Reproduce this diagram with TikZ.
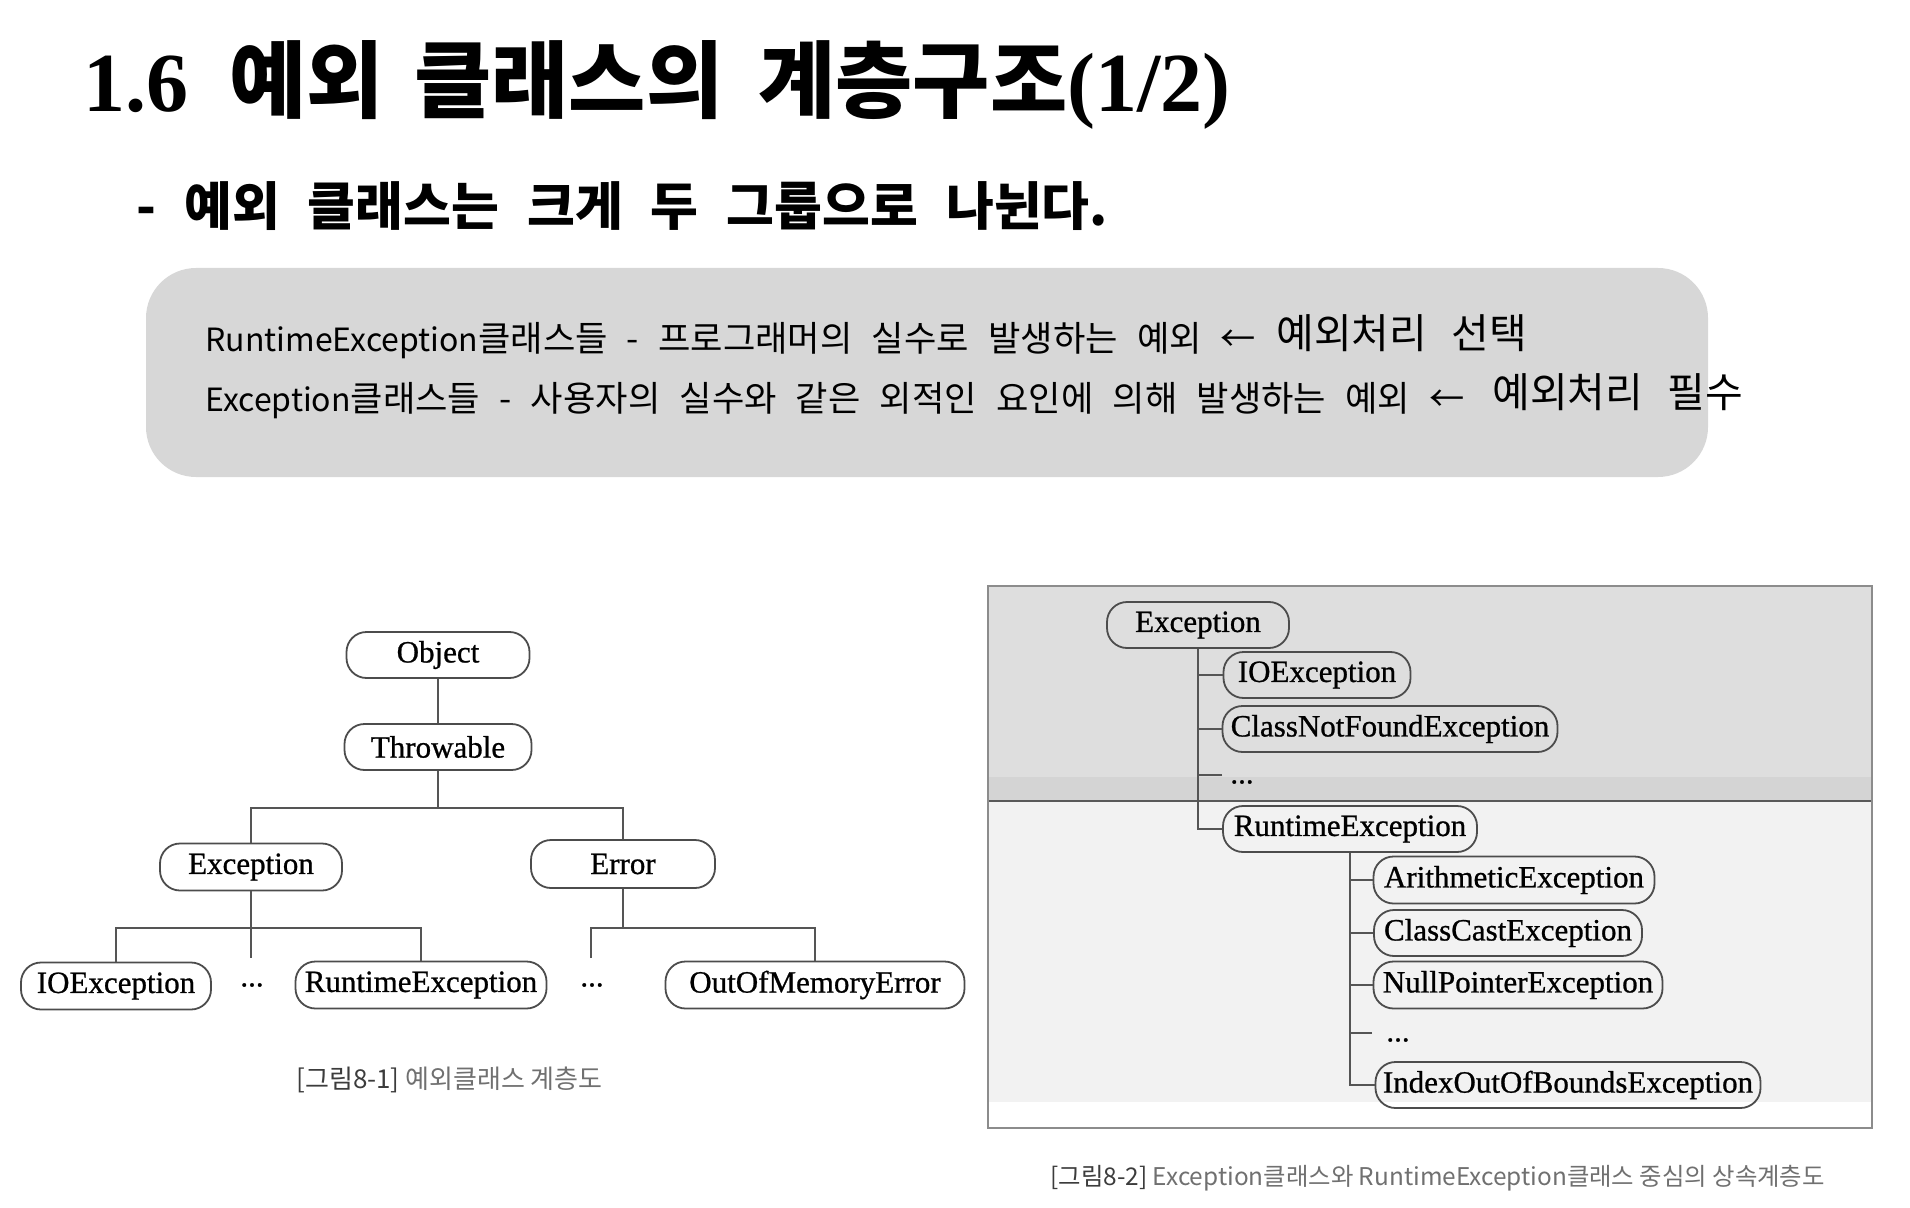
\documentclass[tikz,border=0pt]{standalone}
\usepackage{fontspec}
\setmainfont{Liberation Serif}
\newfontfamily\kr{Noto Sans CJK KR}
\newfontfamily\nodefont{Liberation Serif}[FakeBold=0.8]
\definecolor{boxgray}{HTML}{D7D7D7}
\definecolor{upgray}{HTML}{DEDEDE}
\definecolor{bandgray}{HTML}{D4D4D4}
\definecolor{lowgray}{HTML}{F2F2F2}
\definecolor{edgegray}{HTML}{555555}
\definecolor{capgray}{HTML}{707070}
\definecolor{capdark}{HTML}{3C3C3C}
\begin{document}
\begin{tikzpicture}[x=0.5pt,y=-0.5pt,
  cls/.style={draw=black!70, line width=0.9pt, rounded corners=10pt,
    minimum height=23pt, inner sep=0pt, font=\nodefont\fontsize{15.5}{18}\selectfont},
  conn/.style={draw=edgegray, line width=0.9pt},
  dotsnode/.style={inner sep=0pt, font=\nodefont\fontsize{15.5}{18}\selectfont},
  captext/.style={anchor=west, inner sep=0pt, text=capgray},
  titlepart/.style={anchor=base west, inner sep=0pt, font=\kr\bfseries\fontsize{42}{50}\selectfont},
  boxline/.style={anchor=base west, inner sep=0pt, font=\kr\fontsize{17.6}{20}\selectfont},
  boxbig/.style={anchor=base west, inner sep=0pt, font=\kr\fontsize{20.5}{24}\selectfont}]
\useasboundingbox (0,0) rectangle (1910,1208);

% ---------- title ----------
\node[titlepart, font=\rmfamily\bfseries\fontsize{42}{50}\selectfont] (t1) at (83,112) {1.6};
\node[titlepart] (t2) at (229,112) {예외};
\node[titlepart] (t3) at (414,112) {클래스의};
\node[titlepart] (t4) at (758,112) {계층구조{\rmfamily\bfseries(1/2)}};
\node[anchor=base west, inner sep=0pt] (subtitle) at (136,226)
  {\kr\bfseries\fontsize{26}{30}\selectfont\spaceskip=14pt - 예외 클래스는 크게 두 그룹으로 나뉜다.};

% ---------- gray box ----------
\node[fill=boxgray, rounded corners=25pt, minimum width=781pt, minimum height=104.5pt, inner sep=0pt] (box) at (927,372.5) {};
\node[boxline] (l1) at (205,352) {\spaceskip=9.6pt {\fontsize{16}{20}\selectfont RuntimeException}클래스들 - 프로그래머의 실수로 발생하는 예외 ←};
\node[boxbig] (l1b) at (1276,349) {\spaceskip=12pt 예외처리 선택};
\node[boxline] (l2) at (205,411) {\spaceskip=9.6pt {\fontsize{16}{20}\selectfont Exception}클래스들 - 사용자의 실수와 같은 외적인 요인에 의해 발생하는 예외 ←};
\node[boxbig] (l2b) at (1492,408) {\spaceskip=12pt 예외처리 필수};

% ---------- left tree ----------
\node[cls, minimum width=91.5pt] (obj) at (438,655) {Object};
\node[cls, minimum width=93.5pt] (thr) at (438,747) {Throwable};
\node[cls, minimum width=91pt, minimum height=23.5pt] (exc) at (251,867) {Exception};
\node[cls, minimum width=92pt, minimum height=24pt] (err) at (623,864) {Error};
\node[cls, minimum width=95pt, minimum height=23.5pt] (ioe) at (116,986) {IOException};
\node[cls, minimum width=125.5pt, minimum height=23.5pt] (rte) at (421,985) {RuntimeException};
\node[cls, minimum width=149.5pt, minimum height=23.5pt] (oom) at (815,985) {OutOfMemoryError};
\node[dotsnode] (dA) at (252,985) {...};
\node[dotsnode] (dB) at (592,985) {...};

\coordinate (bar1) at (0,808);
\coordinate (bar2) at (0,928);
\coordinate (endA) at (251,958);
\coordinate (endB) at (591,958);

\draw[conn] (obj) -- (thr);
\draw[conn] (thr.south) -- (thr.south |- bar1);
\draw[conn] (exc.north) |- (err.north |- bar1) -- (err.north);
\draw[conn] (exc.south) -- (endA);
\draw[conn] (ioe.north) |- (rte.north |- bar2) -- (rte.north);
\draw[conn] (err.south) -- (err.south |- bar2);
\draw[conn] (endB) |- (oom.north |- bar2) -- (oom.north);

\node[captext, font=\kr\fontsize{13}{15}\selectfont] (cap1) at (296,1080) {{\color{capdark}[그림8-1]} 예외클래스 계층도};

% ---------- right panel ----------
\fill[upgray] (988,586) rectangle (1872,801);
\fill[bandgray] (988,777) rectangle (1872,801);
\fill[lowgray] (988,801) rectangle (1872,1102);
\draw[black!65, line width=1pt] (988,801) -- (1872,801);
\node[draw=black!45, line width=1pt, minimum width=442pt, minimum height=271pt, inner sep=0pt] (frame) at (1430,857) {};

\node[cls, minimum width=91pt] (rexc) at (1198,625) {Exception};
\node[cls, minimum width=93.5pt] (rioe) at (1317,675) {IOException};
\node[cls, minimum width=167.5pt] (rcnf) at (1390,729) {ClassNotFoundException};
\node[dotsnode] (rdA) at (1242,782) {...};
\node[cls, minimum width=127pt] (rrte) at (1350,829) {RuntimeException};
\node[cls, minimum width=140.5pt, minimum height=23.5pt] (rari) at (1514,880) {ArithmeticException};
\node[cls, minimum width=134pt] (rcce) at (1508,933) {ClassCastException};
\node[cls, minimum width=144.5pt, minimum height=23.5pt] (rnpe) at (1518,985) {NullPointerException};
\node[dotsnode] (rdB) at (1398,1040) {...};
\node[cls, minimum width=192.5pt] (rioob) at (1568,1085) {IndexOutOfBoundsException};

\coordinate (tickA) at (1222,775);
\coordinate (tickB) at (1372,1033);

\draw[conn] (rexc.south) |- (rrte.west);
\draw[conn] (rioe.west) -- (rioe.west -| rexc.south);
\draw[conn] (rcnf.west) -- (rcnf.west -| rexc.south);
\draw[conn] (tickA) -- (tickA -| rexc.south);
\draw[conn] (rrte.south) |- (rioob.west);
\draw[conn] (rari.west) -- (rari.west -| rrte.south);
\draw[conn] (rcce.west) -- (rcce.west -| rrte.south);
\draw[conn] (rnpe.west) -- (rnpe.west -| rrte.south);
\draw[conn] (tickB) -- (tickB -| rrte.south);

\node[captext, font=\kr\fontsize{12.2}{14}\selectfont] (cap2) at (1050,1178) {{\color{capdark}[그림8-2]} Exception클래스와 RuntimeException클래스 중심의 상속계층도};
\end{tikzpicture}
\end{document}
